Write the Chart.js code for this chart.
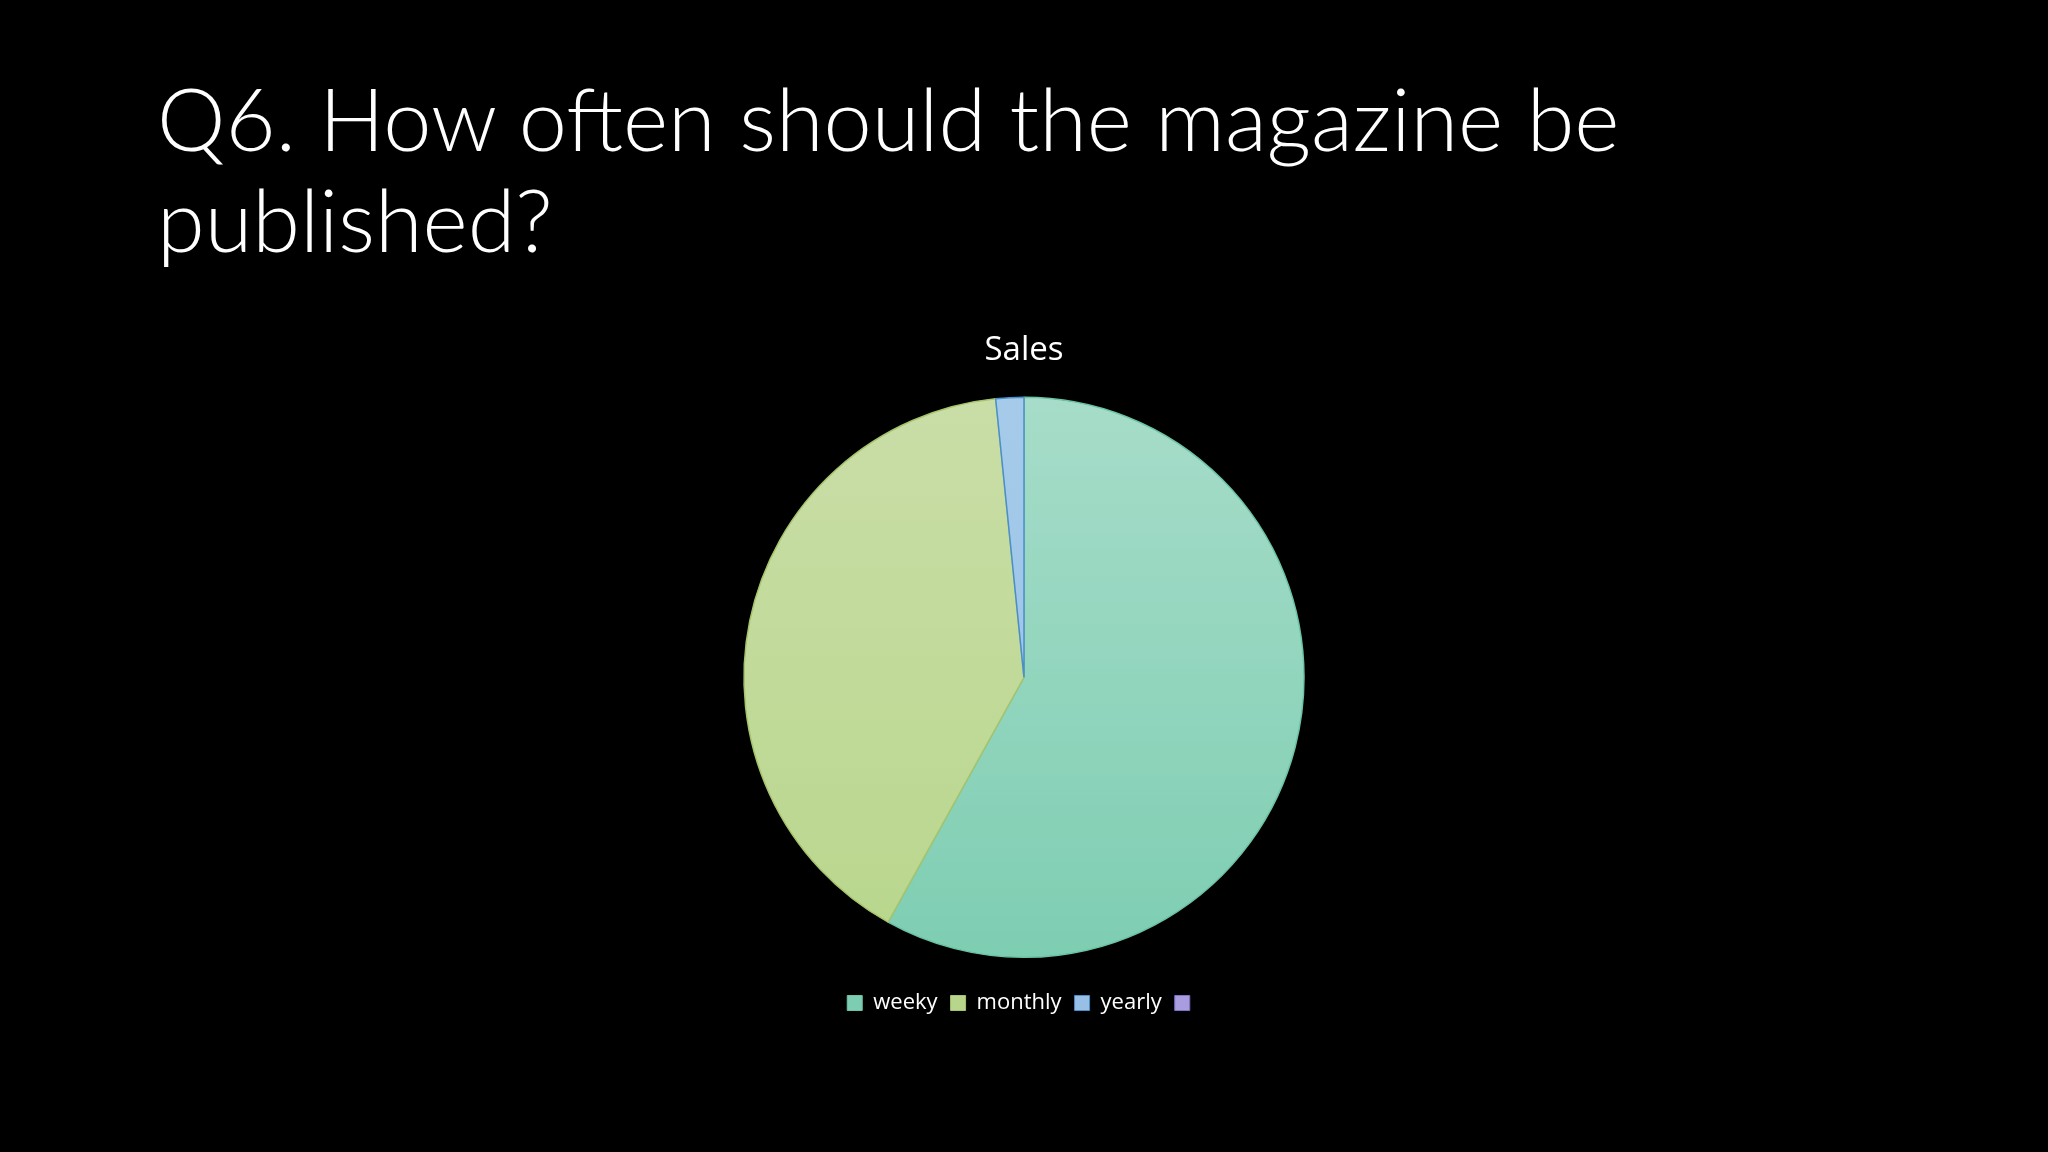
<!DOCTYPE html>
<html>
<head>
<meta charset="utf-8">
<script src="https://cdn.jsdelivr.net/npm/chart.js@4.4.0/dist/chart.umd.min.js"></script>
<style>
  html, body { margin: 0; padding: 0; background: #000; }
  body { width: 2048px; height: 1152px; position: relative; overflow: hidden; }
  #titulo {
    position: absolute; left: 157px; top: 67px;
    font-family: "Lato", "Open Sans", sans-serif; font-weight: 300;
    font-size: 86.5px; line-height: 101px; color: #fff; margin: 0;
  }
  #grafica-box { position: absolute; left: 0; top: 300px; width: 2048px; height: 724px; }
</style>
</head>
<body>
<h1 id="titulo">Q6. How often should the magazine be<br>published?</h1>
<div id="grafica-box"><canvas id="grafica"></canvas></div>
<script>
// datos de la encuesta
var categorias = ['weeky', 'monthly', 'yearly', ''];
var ventas = [36, 25, 1, 0];

var coloresArriba = ['#a8ddca', '#cadea8', '#a6cbea', '#a99de0'];
var coloresAbajo = ['#7ccdb1', '#b8d68b', '#98c0e6', '#a99de0'];
var bordes = ['#6cc4a4', '#a6c46c', '#4b8fc9', '#8070c8'];

function relleno(ctx) {
    var chart = ctx.chart;
    var area = chart.chartArea;
    var i = ctx.dataIndex;
    if (!area) return coloresAbajo[i];
    var g = chart.ctx.createLinearGradient(0, area.top, 0, area.bottom);
    g.addColorStop(0, coloresArriba[i]);
    g.addColorStop(1, coloresAbajo[i]);
    return g;
}

var config = {
    type: 'pie',
    data: {
        labels: categorias,
        datasets: [{
            label: 'Sales',
            data: ventas,
            backgroundColor: relleno,
            borderColor: bordes,
            borderWidth: 1.5,
            radius: 280
        }]
    },
    options: {
        responsive: true,
        maintainAspectRatio: false,
        animation: false,
        plugins: {
            title: {
                display: true,
                text: 'Sales',
                color: '#fff',
                font: { family: 'Open Sans', size: 33, weight: 'normal' },
                padding: { top: 31, bottom: 5 }
            },
            legend: {
                position: 'bottom',
                labels: {
                    color: '#fff',
                    font: { family: 'Open Sans', size: 22 },
                    boxWidth: 15,
                    boxHeight: 15,
                    padding: 13,
                    generateLabels: function(chart) {
                        return categorias.map(function(c, i) {
                            return {
                                text: c,
                                fillStyle: coloresAbajo[i],
                                strokeStyle: bordes[i],
                                lineWidth: 1,
                                fontColor: '#fff',
                                index: i
                            };
                        });
                    }
                }
            },
            tooltip: { enabled: false }
        }
    }
};

var ctx = document.getElementById('grafica').getContext('2d');
window.miPastel = new Chart(ctx, config);
</script>
</body>
</html>
